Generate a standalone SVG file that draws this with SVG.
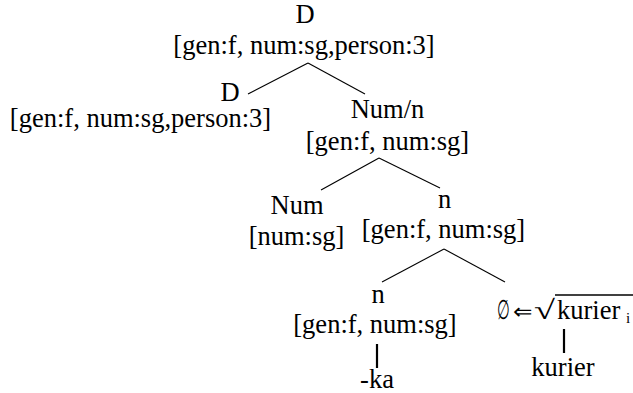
<svg xmlns="http://www.w3.org/2000/svg" width="633" height="393" viewBox="0 0 633 393">
<style>
.t{font-family:'Liberation Serif','Times New Roman',Times,serif;font-size:26.5px;fill:#000;text-anchor:middle}
.s{text-anchor:start}
.e{stroke:#000;stroke-width:1.1;fill:none}
.v{stroke:#000;stroke-width:2.2;fill:none}
</style>
<rect width="633" height="393" fill="#fff"/>
<g id="edges">
<line class="e" x1="308" y1="63" x2="248" y2="94"/>
<line class="e" x1="308" y1="63" x2="365" y2="94"/>
<line class="e" x1="379" y1="158" x2="321" y2="190"/>
<line class="e" x1="379" y1="158" x2="440" y2="188"/>
<line class="e" x1="444" y1="249" x2="382" y2="282"/>
<line class="e" x1="444" y1="249" x2="505" y2="282"/>
<line class="v" x1="377" y1="344" x2="377" y2="368"/>
<line class="v" x1="564" y1="329" x2="564" y2="353"/>
</g>
<g id="root"><text class="t" x="305" y="23">D</text><text class="t" x="304" y="54">[gen:f, num:sg,person:3]</text></g>
<g id="d"><text class="t" x="230" y="101">D</text><text class="t" x="140.5" y="127">[gen:f, num:sg,person:3]</text></g>
<g id="numn"><text class="t" x="387.5" y="118">Num/n</text><text class="t" x="387.5" y="150">[gen:f, num:sg]</text></g>
<g id="num"><text class="t" x="297" y="214">Num</text><text class="t" x="296.5" y="245">[num:sg]</text></g>
<g id="n1"><text class="t" x="444.5" y="208">n</text><text class="t" x="443.5" y="238">[gen:f, num:sg]</text></g>
<g id="n2"><text class="t" x="378" y="303">n</text><text class="t" x="375" y="333">[gen:f, num:sg]</text></g>
<g id="ka"><text class="t" x="377" y="388">-ka</text></g>
<g id="root2">
<text class="t s" x="497" y="319" style="font-size:27px" textLength="13" lengthAdjust="spacingAndGlyphs">∅</text>
<text class="t s" x="513" y="319" style="font-size:22px" textLength="19" lengthAdjust="spacingAndGlyphs">⇐</text>
<text class="t s" x="534" y="319" textLength="21" lengthAdjust="spacingAndGlyphs">√</text>
<text class="t s" x="557" y="319">kurier</text>
<text class="t s" x="626" y="323" style="font-size:15px">i</text>
<line class="e" x1="555" y1="295" x2="633" y2="295" style="stroke-width:1.6"/>
</g>
<g id="kurier"><text class="t" x="563" y="376">kurier</text></g>
</svg>
